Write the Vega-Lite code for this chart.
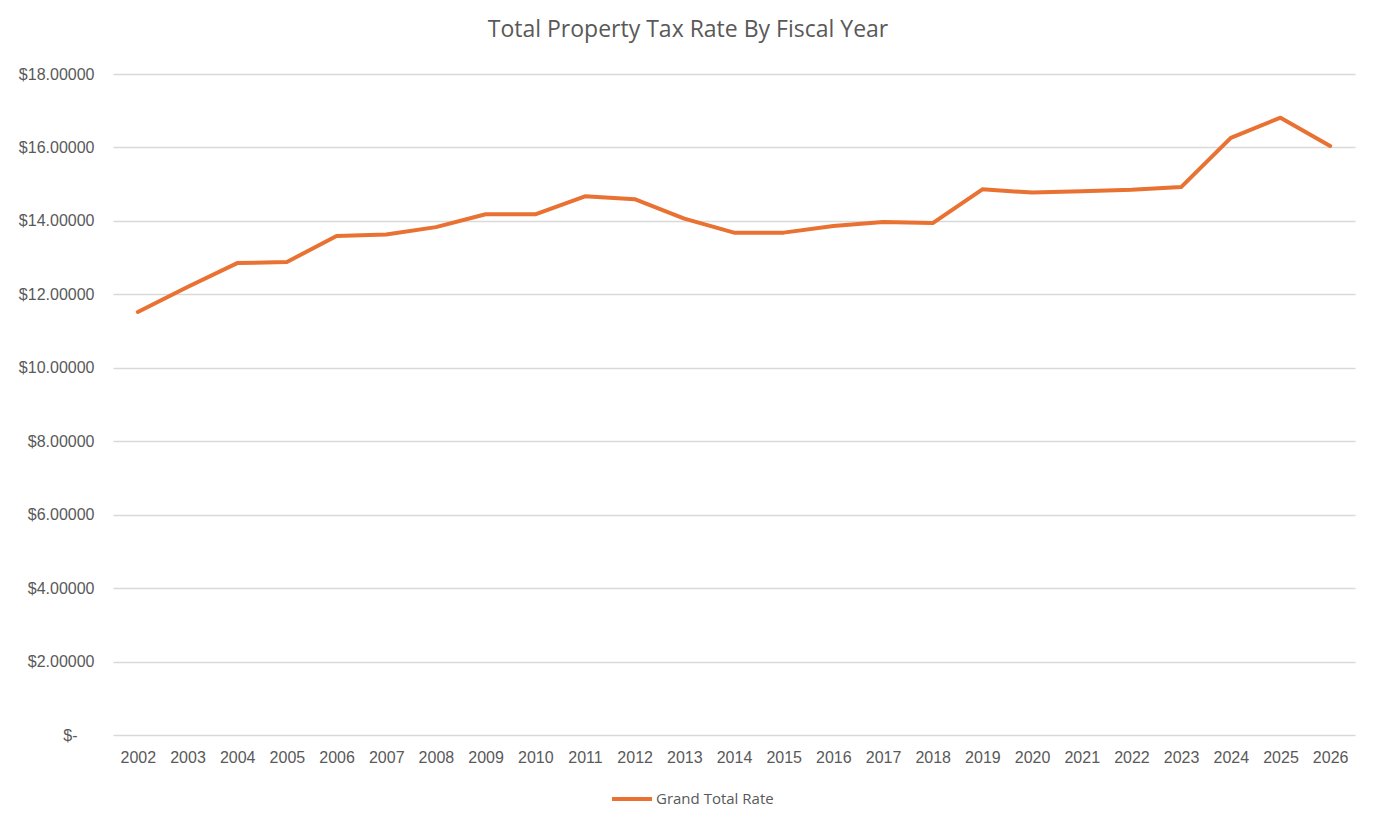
{
  "$schema": "https://vega.github.io/schema/vega-lite/v6.json",
  "autosize": "none",
  "width": 1242,
  "height": 661,
  "padding": {"left": 113, "top": 74, "right": 21, "bottom": 92},
  "background": "white",
  "title": {
    "text": "Total Property Tax Rate By Fiscal Year",
    "font": "Open Sans",
    "fontSize": 23,
    "fontWeight": "normal",
    "color": "#595959",
    "anchor": "middle",
    "dx": -46,
    "offset": 24
  },
  "data": {
    "values": [
      {"year": "2002", "rate": 11.52},
      {"year": "2003", "rate": 12.20},
      {"year": "2004", "rate": 12.85},
      {"year": "2005", "rate": 12.88},
      {"year": "2006", "rate": 13.59},
      {"year": "2007", "rate": 13.63},
      {"year": "2008", "rate": 13.83},
      {"year": "2009", "rate": 14.18},
      {"year": "2010", "rate": 14.18},
      {"year": "2011", "rate": 14.67},
      {"year": "2012", "rate": 14.59},
      {"year": "2013", "rate": 14.06},
      {"year": "2014", "rate": 13.68},
      {"year": "2015", "rate": 13.68},
      {"year": "2016", "rate": 13.86},
      {"year": "2017", "rate": 13.97},
      {"year": "2018", "rate": 13.94},
      {"year": "2019", "rate": 14.86},
      {"year": "2020", "rate": 14.77},
      {"year": "2021", "rate": 14.81},
      {"year": "2022", "rate": 14.85},
      {"year": "2023", "rate": 14.92},
      {"year": "2024", "rate": 16.26},
      {"year": "2025", "rate": 16.81},
      {"year": "2026", "rate": 16.04}
    ]
  },
  "mark": {"type": "line", "strokeWidth": 4, "strokeJoin": "round", "strokeCap": "round"},
  "encoding": {
    "x": {
      "field": "year",
      "type": "ordinal",
      "scale": {"type": "point", "padding": 0.5},
      "axis": {
        "title": null,
        "labelAngle": 0,
        "labelFont": "Liberation Sans",
        "labelFontSize": 16,
        "labelColor": "#595959",
        "labelPadding": 14,
        "domain": false,
        "ticks": false,
        "grid": false
      }
    },
    "y": {
      "field": "rate",
      "type": "quantitative",
      "scale": {"domain": [0, 18], "nice": false},
      "axis": {
        "title": null,
        "values": [0, 2, 4, 6, 8, 10, 12, 14, 16, 18],
        "labelExpr": "datum.value == 0 ? '$-' : '$' + format(datum.value, '.5f')",
        "labelFont": "Liberation Sans",
        "labelFontSize": 16,
        "labelColor": "#595959",
        "labelPadding": {"condition": {"test": "datum.value == 0", "value": 36}, "value": 19},
        "domain": false,
        "ticks": false,
        "grid": true,
        "gridColor": "#d9d9d9",
        "gridWidth": 1.5
      }
    },
    "color": {
      "datum": "Grand Total Rate",
      "type": "nominal",
      "scale": {"range": ["#E97132"]},
      "legend": {
        "title": null,
        "orient": "none",
        "legendX": 497,
        "legendY": 703,
        "symbolType": "stroke",
        "symbolSize": 1600,
        "symbolStrokeWidth": 4,
        "labelFont": "Open Sans",
        "labelFontSize": 15,
        "labelColor": "#595959",
        "labelOffset": 2
      }
    }
  },
  "config": {
    "view": {"stroke": null}
  }
}
